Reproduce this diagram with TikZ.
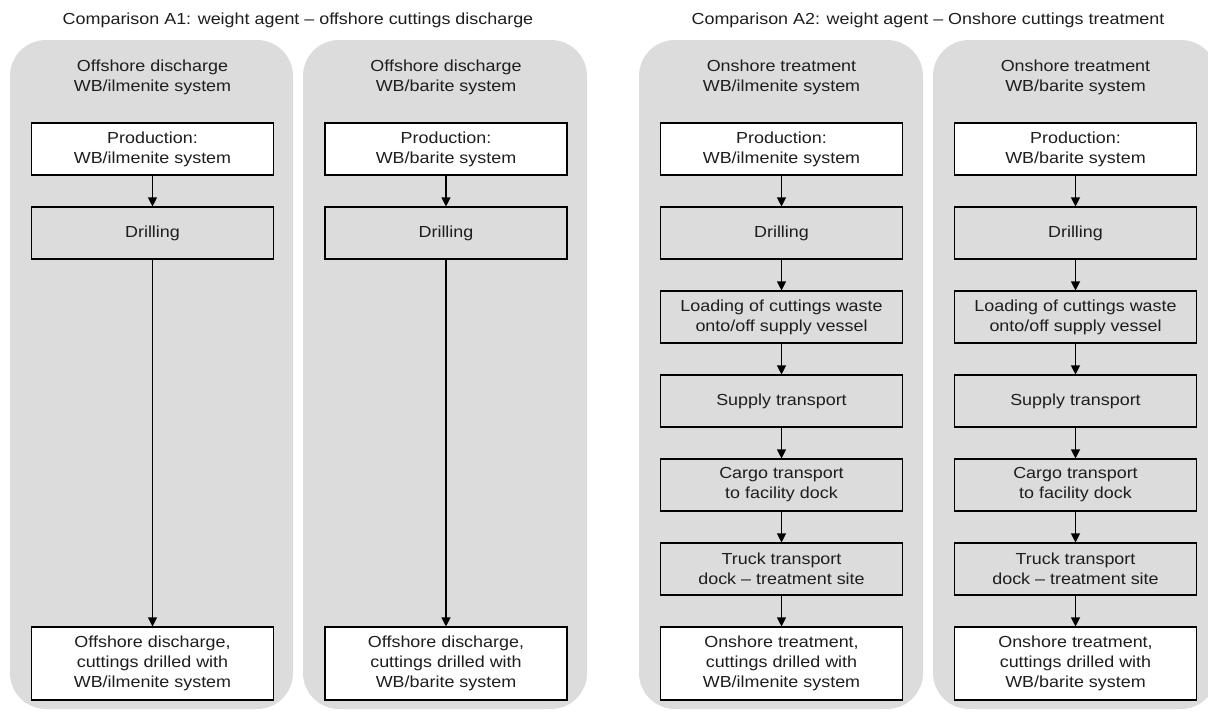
\documentclass[tikz,border=0pt]{standalone}
\usepackage{fontspec}
\setmainfont{Liberation Sans}[FakeStretch=1.12]
\usetikzlibrary{arrows.meta}
\definecolor{panelgray}{RGB}{220,220,220}
\definecolor{inkgray}{RGB}{30,30,30}
\begin{document}
\begin{tikzpicture}[x=1pt,y=-1pt,
  every node/.style={text=inkgray, font=\fontsize{16}{20}\selectfont},
  panel/.style={fill=panelgray, rounded corners=36pt},
  heading/.style={align=center, inner sep=0pt},
  stepbox/.style={draw=black, line width=1.1pt, fill=panelgray, minimum width=242pt,
    minimum height=52pt, align=center, inner sep=0pt},
  endbox/.style={stepbox, fill=white},
  tallbox/.style={stepbox, fill=white, minimum height=73pt},
  flow/.style={draw=black, line width=1.1pt, -{Triangle[length=9pt,width=9pt]}}
]
\useasboundingbox (0,0) rectangle (1208,715);
\fill[white] (0,0) rectangle (1208,715);

% group titles
\node[heading] (titleA1) at (298,20) {Comparison A1: weight agent -- offshore cuttings discharge};
\node[heading] (titleA2) at (928,20) {Comparison A2: weight agent -- Onshore cuttings treatment};

% background panels
\fill[panel] (10,40) rectangle (293,709);
\fill[panel] (303,40) rectangle (587,709);
\fill[panel] (639,40) rectangle (923,709);
\fill[panel] (933,40) rectangle (1217,709);

% ---- A1: offshore discharge, ilmenite
\node[heading] (h1) at (152.5,77) {Offshore discharge\\WB/ilmenite system};
\node[endbox] (p1) at (152.5,149) {Production:\\WB/ilmenite system};
\node[stepbox] (d1) at (152.5,233) {Drilling};
\node[tallbox] (f1) at (152.5,663.5) {Offshore discharge,\\cuttings drilled with\\WB/ilmenite system};
\draw[flow] (p1) -- (d1);
\draw[flow] (d1) -- (f1);

% ---- A1: offshore discharge, barite
\node[heading] (h2) at (446,77) {Offshore discharge\\WB/barite system};
\node[endbox] (p2) at (446,149) {Production:\\WB/barite system};
\node[stepbox] (d2) at (446,233) {Drilling};
\node[tallbox] (f2) at (446,663.5) {Offshore discharge,\\cuttings drilled with\\WB/barite system};
\draw[flow] (p2) -- (d2);
\draw[flow] (d2) -- (f2);

% ---- A2: onshore treatment, ilmenite
\node[heading] (h3) at (781.5,77) {Onshore treatment\\WB/ilmenite system};
\node[endbox] (p3) at (781.5,149) {Production:\\WB/ilmenite system};
\node[stepbox] (d3) at (781.5,233) {Drilling};
\node[stepbox] (l3) at (781.5,317) {Loading of cuttings waste\\onto/off supply vessel};
\node[stepbox] (s3) at (781.5,401) {Supply transport};
\node[stepbox] (c3) at (781.5,485) {Cargo transport\\to facility dock};
\node[stepbox] (t3) at (781.5,569) {Truck transport\\dock -- treatment site};
\node[tallbox] (f3) at (781.5,663.5) {Onshore treatment,\\cuttings drilled with\\WB/ilmenite system};
\draw[flow] (p3) -- (d3);
\draw[flow] (d3) -- (l3);
\draw[flow] (l3) -- (s3);
\draw[flow] (s3) -- (c3);
\draw[flow] (c3) -- (t3);
\draw[flow] (t3) -- (f3);

% ---- A2: onshore treatment, barite
\node[heading] (h4) at (1075.5,77) {Onshore treatment\\WB/barite system};
\node[endbox] (p4) at (1075.5,149) {Production:\\WB/barite system};
\node[stepbox] (d4) at (1075.5,233) {Drilling};
\node[stepbox] (l4) at (1075.5,317) {Loading of cuttings waste\\onto/off supply vessel};
\node[stepbox] (s4) at (1075.5,401) {Supply transport};
\node[stepbox] (c4) at (1075.5,485) {Cargo transport\\to facility dock};
\node[stepbox] (t4) at (1075.5,569) {Truck transport\\dock -- treatment site};
\node[tallbox] (f4) at (1075.5,663.5) {Onshore treatment,\\cuttings drilled with\\WB/barite system};
\draw[flow] (p4) -- (d4);
\draw[flow] (d4) -- (l4);
\draw[flow] (l4) -- (s4);
\draw[flow] (s4) -- (c4);
\draw[flow] (c4) -- (t4);
\draw[flow] (t4) -- (f4);
\end{tikzpicture}
\end{document}
